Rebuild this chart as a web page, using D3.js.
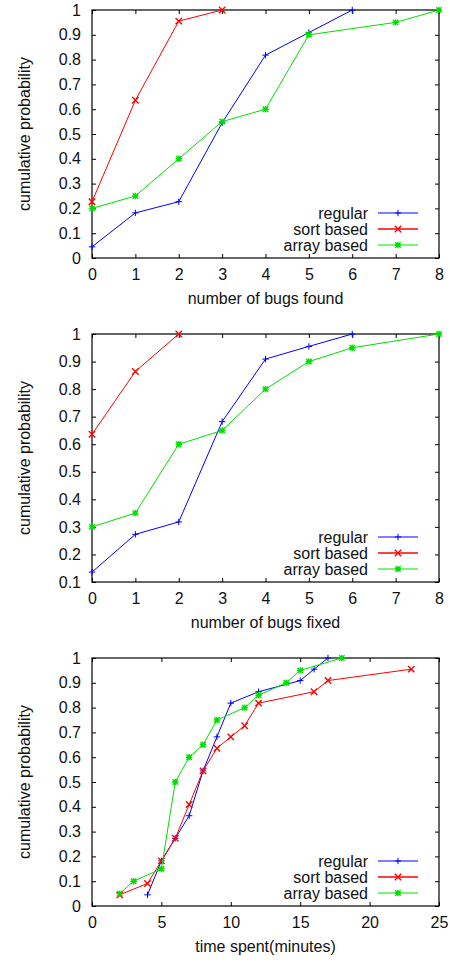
<!DOCTYPE html>
<html>
<head>
<meta charset="utf-8">
<script src="https://cdn.jsdelivr.net/npm/d3@7"></script>
<style>
  html, body { margin: 0; padding: 0; background: #fff; }
  svg { display: block; }
  text { font-family: "Liberation Sans", Arial, Helvetica, sans-serif; font-size: 16px; fill: #111; }
</style>
</head>
<body>
<svg id="chart" width="450" height="962"></svg>
<script>
// ---- Data ----
const seriesNames = ["regular", "sort based", "array based"];
const seriesColors = ["#0000ff", "#ff0000", "#00e000"];

// Panel 1: number of bugs found
const foundRegularX = [0, 1, 2, 3, 4, 5, 6];
const foundRegularY = [0.045, 0.182, 0.227, 0.545, 0.818, 0.909, 1];
const foundSortX = [0, 1, 2, 3];
const foundSortY = [0.227, 0.636, 0.955, 1];
const foundArrayX = [0, 1, 2, 3, 4, 5, 7, 8];
const foundArrayY = [0.2, 0.25, 0.4, 0.55, 0.6, 0.9, 0.95, 1];

// Panel 2: number of bugs fixed
const fixedRegularX = [0, 1, 2, 3, 4, 5, 6];
const fixedRegularY = [0.136, 0.273, 0.318, 0.682, 0.909, 0.955, 1];
const fixedSortX = [0, 1, 2];
const fixedSortY = [0.636, 0.864, 1];
const fixedArrayX = [0, 1, 2, 3, 4, 5, 6, 8];
const fixedArrayY = [0.3, 0.35, 0.6, 0.65, 0.8, 0.9, 0.95, 1];

// Panel 3: time spent (minutes)
const timeRegularX = [4, 5, 6, 7, 8, 9, 10, 12, 15, 16, 17];
const timeRegularY = [0.045, 0.182, 0.273, 0.364, 0.545, 0.682, 0.818, 0.864, 0.909, 0.955, 1];
const timeSortX = [2, 4, 5, 6, 7, 8, 9, 10, 11, 12, 16, 17, 23];
const timeSortY = [0.045, 0.091, 0.182, 0.273, 0.409, 0.545, 0.636, 0.682, 0.727, 0.818, 0.864, 0.909, 0.955];
const timeArrayX = [2, 3, 5, 6, 7, 8, 9, 11, 12, 14, 15, 18];
const timeArrayY = [0.05, 0.1, 0.15, 0.5, 0.6, 0.65, 0.75, 0.8, 0.85, 0.9, 0.95, 1];

// Tick labels
const bugsXTicks = [0, 1, 2, 3, 4, 5, 6, 7, 8];
const timeXTicks = [0, 5, 10, 15, 20, 25];
const probTicks = ["0", "0.1", "0.2", "0.3", "0.4", "0.5", "0.6", "0.7", "0.8", "0.9", "1"];
const probTicksFixed = ["0.1", "0.2", "0.3", "0.4", "0.5", "0.6", "0.7", "0.8", "0.9", "1"];

const yTitle = "cumulative probability";
const xTitles = ["number of bugs found", "number of bugs fixed", "time spent(minutes)"];

const zip = (xs, ys) => xs.map((x, i) => [x, ys[i]]);

const panels = [
  { top: 10, xDomain: [0, 8], yDomain: [0, 1], xTicks: bugsXTicks, yTicks: probTicks, title: xTitles[0],
    series: [zip(foundRegularX, foundRegularY), zip(foundSortX, foundSortY), zip(foundArrayX, foundArrayY)] },
  { top: 334, xDomain: [0, 8], yDomain: [0.1, 1], xTicks: bugsXTicks, yTicks: probTicksFixed, title: xTitles[1],
    series: [zip(fixedRegularX, fixedRegularY), zip(fixedSortX, fixedSortY), zip(fixedArrayX, fixedArrayY)] },
  { top: 658, xDomain: [0, 25], yDomain: [0, 1], xTicks: timeXTicks, yTicks: probTicks, title: xTitles[2],
    series: [zip(timeRegularX, timeRegularY), zip(timeSortX, timeSortY), zip(timeArrayX, timeArrayY)] }
];

const svg = d3.select("#chart");
const left = 92, right = 439, plotH = 248, tick = 4;

function drawMarker(g, type, x, y, color) {
  const s = 3.2;
  const p = d3.path();
  if (type === 0 || type === 2) {
    p.moveTo(x - s, y); p.lineTo(x + s, y);
    p.moveTo(x, y - s); p.lineTo(x, y + s);
  }
  if (type === 1 || type === 2) {
    const d = type === 2 ? s * 0.85 : s;
    p.moveTo(x - d, y - d); p.lineTo(x + d, y + d);
    p.moveTo(x - d, y + d); p.lineTo(x + d, y - d);
  }
  g.append("path").attr("d", p.toString()).attr("stroke", color)
    .attr("stroke-width", type === 0 ? 1 : 1.4).attr("fill", "none");
}

panels.forEach(pn => {
  const top = pn.top, bottom = top + plotH;
  const x = d3.scaleLinear().domain(pn.xDomain).range([left, right]);
  const y = d3.scaleLinear().domain(pn.yDomain).range([bottom, top]);
  const yVals = pn.yTicks.map(Number);
  const g = svg.append("g");

  // axes (inward ticks, mirrored)
  const ax = g.append("g").attr("transform", `translate(0,${bottom})`)
    .call(d3.axisBottom(x).tickValues(pn.xTicks).tickSizeInner(-tick).tickSizeOuter(0).tickPadding(11).tickFormat(d3.format("d")));
  const ay = g.append("g").attr("transform", `translate(${left},0)`)
    .call(d3.axisLeft(y).tickValues(yVals).tickSizeInner(-tick).tickSizeOuter(0).tickPadding(11)
      .tickFormat((d, i) => pn.yTicks[i]));
  const at = g.append("g").attr("transform", `translate(0,${top})`)
    .call(d3.axisTop(x).tickValues(pn.xTicks).tickSizeInner(-tick).tickSizeOuter(0).tickFormat(""));
  const ar = g.append("g").attr("transform", `translate(${right},0)`)
    .call(d3.axisRight(y).tickValues(yVals).tickSizeInner(-tick).tickSizeOuter(0).tickFormat(""));
  [ax, ay, at, ar].forEach(a => {
    a.select(".domain").remove();
    a.selectAll(".tick line").attr("stroke", "#000");
    a.selectAll("text").attr("font-size", 16).attr("font-family", null).style("fill", "#111");
  });

  // frame
  g.append("rect").attr("x", left).attr("y", top).attr("width", right - left).attr("height", plotH)
    .attr("fill", "none").attr("stroke", "#000").attr("stroke-width", 1.2);

  // series
  const line = d3.line().x(d => x(d[0])).y(d => y(d[1]));
  pn.series.forEach((data, si) => {
    g.append("path").datum(data).attr("d", line).attr("fill", "none")
      .attr("stroke", seriesColors[si]).attr("stroke-width", 1);
    data.forEach(d => drawMarker(g, si, x(d[0]), y(d[1]), seriesColors[si]));
  });

  // legend
  const legOff = [45, 29, 13];
  seriesNames.forEach((name, si) => {
    const cy = bottom - legOff[si];
    g.append("text").attr("x", 368).attr("y", cy).attr("dy", "0.35em")
      .attr("text-anchor", "end").text(name);
    g.append("line").attr("x1", 378).attr("x2", 418).attr("y1", cy).attr("y2", cy)
      .attr("stroke", seriesColors[si]).attr("stroke-width", si === 1 ? 1.5 : 1);
    drawMarker(g, si, 398, cy, seriesColors[si]);
  });

  // axis titles
  g.append("text").attr("x", (left + right) / 2).attr("y", bottom + 46)
    .attr("text-anchor", "middle").text(pn.title);
  g.append("text").attr("transform", `translate(30,${(top + bottom) / 2}) rotate(-90)`)
    .attr("text-anchor", "middle").text(yTitle);
});
</script>
</body>
</html>
